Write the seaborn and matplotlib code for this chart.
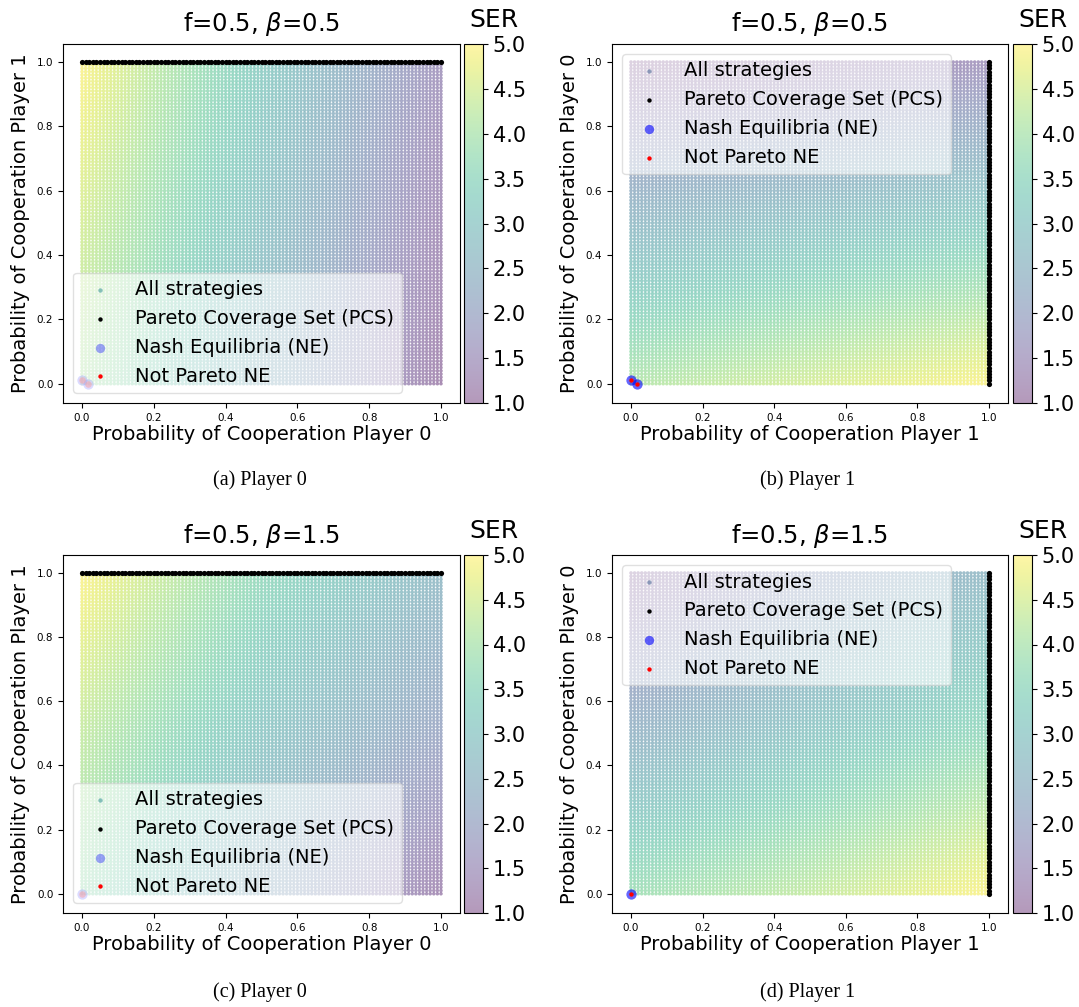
import numpy as np
import pandas as pd
import matplotlib
matplotlib.use('Agg')
import matplotlib.pyplot as plt
import seaborn as sns
from matplotlib.colors import Normalize
from matplotlib.cm import ScalarMappable

# probability grid of the mixed strategies
grid = np.round(np.linspace(0, 1, 101), 2)

# SER of player 0 at p0 = 0, 0.5, 1 (columns)
# and p1 = 0, 0.5, 1 (rows)
nodes = [0.0, 0.5, 1.0]
ser_beta05 = [[4.1, 2.6, 1.1],
              [4.5, 2.9, 1.3],
              [4.95, 3.2, 1.5]]
ser_beta15 = [[3.8, 2.4, 1.2],
              [4.3, 3.0, 2.0],
              [4.95, 3.6, 2.6]]

# Nash equilibria (x, y) per panel
ne_a = ([0.0, 0.016], [0.012, 0.0])
ne_b = ([0.0, 0.016], [0.012, 0.0])
ne_c = ([0.0], [0.0])
ne_d = ([0.0], [0.0])

titles = ['f=0.5, $\\beta$=0.5', 'f=0.5, $\\beta$=0.5', 'f=0.5, $\\beta$=1.5', 'f=0.5, $\\beta$=1.5']
captions = ['(a) Player 0', '(b) Player 1', '(c) Player 0', '(d) Player 1']
xlabels = ['Probability of Cooperation Player 0', 'Probability of Cooperation Player 1'] * 2
ylabels = ['Probability of Cooperation Player 1', 'Probability of Cooperation Player 0'] * 2
cbar_ticks = [1.0, 1.5, 2.0, 2.5, 3.0, 3.5, 4.0, 4.5, 5.0]


def strategy_table(table, transpose=False):
    # expected SER over the strategy grid (bilinear in the probabilities)
    t = np.array(table)
    rows = np.array([np.interp(grid, nodes, r) for r in t])
    full = np.array([np.interp(grid, nodes, rows[:, j]) for j in range(len(grid))]).T
    X, Y = np.meshgrid(grid, grid)
    if transpose:
        full = full.T
    return pd.DataFrame({'x': X.ravel(), 'y': Y.ravel(), 'ser': full.ravel()})


W, H = 1079, 1007
fig = plt.figure(figsize=(W / 100, H / 100), dpi=100)


def px(l, t, r, b):
    return [l / W, 1 - b / H, (r - l) / W, (b - t) / H]


panels = [
    dict(ax=(63, 44, 460, 403), cb=(464, 44, 483, 403), table=ser_beta05, tr=False, pcs='row',
         ne=ne_a, loc='lower left', ne_alpha=0.35, red_alpha=0.45, red_s=22, leg_c=2.9),
    dict(ax=(612, 44, 1008, 403), cb=(1013, 44, 1032, 403), table=ser_beta05, tr=True, pcs='col',
         ne=ne_b, loc='upper left', ne_alpha=0.6, red_alpha=1.0, red_s=10, leg_c=2.1),
    dict(ax=(63, 555, 460, 913), cb=(464, 555, 483, 913), table=ser_beta15, tr=False, pcs='row',
         ne=ne_c, loc='lower left', ne_alpha=0.35, red_alpha=0.45, red_s=22, leg_c=2.9),
    dict(ax=(612, 555, 1008, 913), cb=(1013, 555, 1032, 913), table=ser_beta15, tr=True, pcs='col',
         ne=ne_d, loc='upper left', ne_alpha=0.6, red_alpha=1.0, red_s=10, leg_c=2.1),
]

norm = Normalize(vmin=1, vmax=5)
cmap = plt.get_cmap('viridis')

for i, p in enumerate(panels):
    ax = fig.add_axes(px(*p['ax']))
    df = strategy_table(p['table'], p['tr'])
    sns.scatterplot(data=df, x='x', y='y', c=df['ser'], cmap='viridis', vmin=1, vmax=5,
                    s=6.5, alpha=0.45, linewidth=0, label='All strategies', ax=ax)
    if p['pcs'] == 'row':
        pcs = pd.DataFrame({'x': grid, 'y': np.ones_like(grid)})
    else:
        pcs = pd.DataFrame({'x': np.ones_like(grid), 'y': grid})
    sns.scatterplot(data=pcs, x='x', y='y', color='black', s=14, linewidth=0,
                    label='Pareto Coverage Set (PCS)', ax=ax)
    ne = pd.DataFrame({'x': p['ne'][0], 'y': p['ne'][1]})
    sns.scatterplot(data=ne, x='x', y='y', color='blue', s=55, alpha=p['ne_alpha'], linewidth=0,
                    label='Nash Equilibria (NE)', ax=ax)
    sns.scatterplot(data=ne, x='x', y='y', color='red', s=p['red_s'], alpha=p['red_alpha'],
                    linewidth=0, label='Not Pareto NE', ax=ax)

    ax.set_xlim(-0.053, 1.053)
    ax.set_ylim(-0.06, 1.056)
    ax.set_xticks([0, 0.2, 0.4, 0.6, 0.8, 1.0])
    ax.set_yticks([0, 0.2, 0.4, 0.6, 0.8, 1.0])
    ax.tick_params(labelsize=7.5)
    ax.set_xlabel(xlabels[i], fontsize=14, labelpad=2)
    ax.set_ylabel(ylabels[i], fontsize=14, labelpad=5)
    ax.set_title(titles[i], fontsize=17.5, pad=9)

    leg = ax.legend(loc=p['loc'], fontsize=14, framealpha=0.6)
    h0 = leg.legend_handles[0]
    h0.set_array(None)
    h0.set_facecolor(cmap(norm(p['leg_c'])))
    h0.set_alpha(0.5)
    h0.set_sizes([10])
    leg.legend_handles[1].set_sizes([10])
    leg.legend_handles[2].set_sizes([45])
    leg.legend_handles[3].set_sizes([10])
    leg.legend_handles[3].set_alpha(1)

    cax = fig.add_axes(px(*p['cb']))
    sm = ScalarMappable(norm=norm, cmap='viridis')
    cb = fig.colorbar(sm, cax=cax, alpha=0.4, ticks=cbar_ticks)
    cb.ax.tick_params(labelsize=15)
    cb.outline.set_linewidth(0.8)
    fig.text((p['cb'][0] + 5) / W, 1 - (p['cb'][1] - 24) / H, 'SER', fontsize=18,
             ha='left', va='center')

    cx = (p['ax'][0] + p['ax'][2]) / 2 - 2
    cy = 480 if i < 2 else 992
    fig.text(cx / W, 1 - cy / H, captions[i], fontsize=14.5, family='Liberation Serif',
             ha='center', va='center')

fig.savefig('out.png', dpi=100)
